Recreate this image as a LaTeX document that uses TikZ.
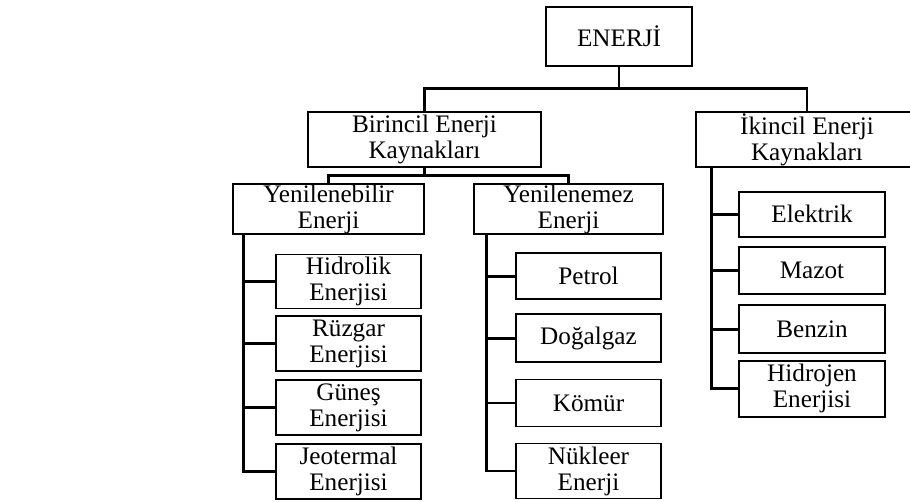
\documentclass[tikz,border=0pt]{standalone}
\usepackage{fontspec}
\setmainfont{Liberation Serif}
\begin{document}
\begin{tikzpicture}[x=0.75pt,y=-0.75pt,
  bx/.style 2 args={draw, line width=1.3pt, rectangle, inner sep=0pt, align=center,
    minimum width={#1*0.75pt}, minimum height={#2*0.75pt},
    font=\fontsize{18.9}{19.5}\selectfont},
  conn/.style={line width=2.1pt}]
\useasboundingbox (0,0) rectangle (910,502);
\clip (0,0) rectangle (910,502);
% level 0
\node[bx={146}{59}] (E) at (619,36.5) {ENERJİ};
% level 1
\node[bx={233}{55}] (B) at (424.5,139.5) {Birincil Enerji\\Kaynakları};
\node[bx={222}{55}] (I) at (807,139.5) {İkincil Enerji\\Kaynakları};
% level 2
\node[bx={191}{50}] (Yb) at (328.5,209) {Yenilenebilir\\Enerji};
\node[bx={189}{50}] (Ym) at (568.5,209) {Yenilenemez\\Enerji};
% left column
\node[bx={145}{54}] (Hid) at (348.5,281.5) {Hidrolik\\Enerjisi};
\node[bx={145}{55}] (Ruz) at (348.5,343.5) {Rüzgar\\Enerjisi};
\node[bx={145}{55}] (Gun) at (348.5,407.5) {Güneş\\Enerjisi};
\node[bx={145}{55}] (Jeo) at (348.5,471.8) {Jeotermal\\Enerjisi};
% middle column
\node[bx={145}{46}] (Pet) at (588.5,276.3) {Petrol};
\node[bx={145}{48}] (Dog) at (588.5,338.3) {Doğalgaz};
\node[bx={145}{47}] (Kom) at (588.5,403) {Kömür};
\node[bx={145}{55}] (Nuk) at (588.5,471) {Nükleer\\Enerji};
% right column
\node[bx={146}{45}] (Ele) at (812,214.3) {Elektrik};
\node[bx={146}{47}] (Maz) at (812,270.3) {Mazot};
\node[bx={146}{48}] (Ben) at (812,329.2) {Benzin};
\node[bx={146}{56}] (Hij) at (812,388.8) {Hidrojen\\Enerjisi};
% connectors
\coordinate (b1) at (619,88.5);
\draw[conn] (E.south) -- (b1);
\draw[conn] (B.north) |- (b1) -| (I.north);
\coordinate (b2) at (424.5,175.5);
\draw[conn] (B.south) -- (b2);
\draw[conn] (Yb.north) |- (b2) -| (Ym.north);
\path (Yb.south west) ++(11,0) coordinate (t1);
\draw[conn] (t1) |- (Jeo.west);
\foreach \n in {Hid,Ruz,Gun} \draw[conn] (\n.west) -- (\n.west -| t1);
\path (Ym.south west) ++(13.5,0) coordinate (t2);
\draw[conn] (t2) |- (Nuk.west);
\foreach \n in {Pet,Dog,Kom} \draw[conn] (\n.west) -- (\n.west -| t2);
\path (I.south west) ++(16,0) coordinate (t3);
\draw[conn] (t3) |- (Hij.west);
\foreach \n in {Ele,Maz,Ben} \draw[conn] (\n.west) -- (\n.west -| t3);
\end{tikzpicture}
\end{document}
